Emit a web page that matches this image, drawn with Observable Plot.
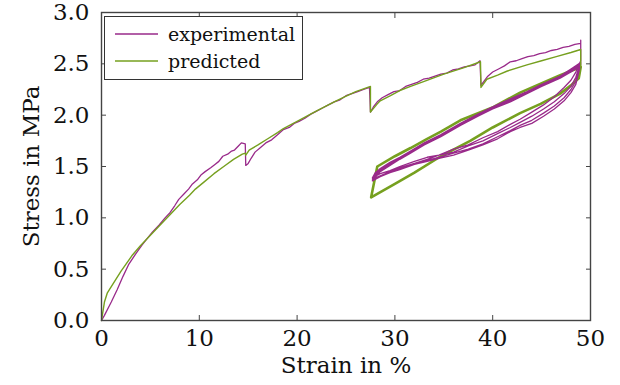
<!DOCTYPE html>
<html>
<head>
<meta charset="utf-8">
<script src="https://cdn.jsdelivr.net/npm/d3@7"></script>
<script src="https://cdn.jsdelivr.net/npm/@observablehq/plot@0.6"></script>
<style>
  html, body { margin: 0; padding: 0; background: #fff; }
  #wrap { position: relative; width: 620px; height: 385px; font-family: "DejaVu Serif", serif; }
  #legend { position: absolute; left: 104px; top: 16px; width: 199px; height: 64px; border: 1px solid #333; background: #fff; box-sizing: border-box; }
  #legend .row { position: absolute; left: 10px; height: 26px; display: flex; align-items: center; font-size: 19px; color: #111; font-family: "DejaVu Serif", serif; }
  #legend svg { margin-right: 10px; }
</style>
</head>
<body>
<div id="wrap"></div>
<script>
// ---- Data ----
const expColor = "#992a8a";
const predColor = "#76a01f";

const xTicks = [0, 10, 20, 30, 40, 50];
const yTicks = [0, 0.5, 1.0, 1.5, 2.0, 2.5, 3.0];
const xLabel = "Strain in %";
const yLabel = "Stress in MPa";

// Experimental: monotonic loading with relaxation drops
const expLoadStrain = [0, 0.3, 1, 1.6, 2.2, 2.8, 3.5, 4.1, 4.6, 5.2, 5.9, 6.5, 7.0, 7.5, 7.9, 8.4, 8.9, 9.3, 9.8, 10.2, 10.6, 11.2, 11.6, 12.0, 12.4, 12.9, 13.3, 13.6, 14.0, 14.3, 14.7,
  14.75, 15.0, 15.3, 15.7, 16.2, 16.8, 17.4, 18.0, 18.6, 19.2, 19.7, 20.2, 20.8, 21.4, 22.0, 22.6, 23.2, 23.8, 24.4, 25.0, 25.6, 26.2, 26.8, 27.4,
  27.5, 27.8, 28.2, 28.7, 29.3, 29.9, 30.5, 31.1, 31.7, 32.3, 32.9, 33.5, 34.1, 34.7, 35.3, 35.9, 36.5, 37.1, 37.7, 38.2, 38.7,
  38.8, 39.1, 39.5, 40.0, 40.6, 41.2, 41.8, 42.4, 43.0, 43.6, 44.2, 44.8, 45.4, 46.0, 46.6, 47.2, 47.8, 48.4, 49.0, 49.0];
const expLoadStress = [0, 0.05, 0.18, 0.30, 0.43, 0.55, 0.65, 0.73, 0.79, 0.86, 0.93, 1.00, 1.05, 1.12, 1.18, 1.23, 1.28, 1.33, 1.37, 1.42, 1.45, 1.49, 1.52, 1.55, 1.60, 1.62, 1.65, 1.66, 1.70, 1.73, 1.72,
  1.51, 1.53, 1.58, 1.64, 1.68, 1.73, 1.76, 1.81, 1.86, 1.88, 1.92, 1.94, 1.97, 2.01, 2.04, 2.07, 2.10, 2.13, 2.15, 2.19, 2.21, 2.23, 2.25, 2.27,
  2.03, 2.08, 2.13, 2.17, 2.20, 2.23, 2.24, 2.28, 2.30, 2.32, 2.35, 2.36, 2.38, 2.40, 2.41, 2.44, 2.45, 2.47, 2.48, 2.49, 2.53,
  2.29, 2.33, 2.38, 2.42, 2.45, 2.48, 2.52, 2.53, 2.55, 2.57, 2.58, 2.60, 2.61, 2.63, 2.64, 2.66, 2.67, 2.69, 2.70, 2.73];

// Experimental cycles (unloading / reloading), several repetitions
const expUnloadStrain = [49.0, 48.5, 48.0, 47.3, 46.3, 45.2, 44.0, 42.8, 41.8, 40.5, 39.0, 37.5, 36.0, 34.5, 33.3, 32.0, 30.5, 29.5, 28.5, 27.7];
const expUnload1 = [2.53, 2.42, 2.34, 2.27, 2.18, 2.10, 2.03, 1.96, 1.91, 1.84, 1.78, 1.71, 1.67, 1.61, 1.59, 1.55, 1.50, 1.46, 1.43, 1.39];
const expUnload2 = [2.52, 2.37, 2.28, 2.21, 2.13, 2.06, 1.99, 1.93, 1.88, 1.82, 1.75, 1.70, 1.64, 1.61, 1.57, 1.53, 1.49, 1.45, 1.41, 1.38];
const expUnload3 = [2.51, 2.33, 2.25, 2.17, 2.09, 2.02, 1.95, 1.90, 1.85, 1.79, 1.72, 1.67, 1.63, 1.59, 1.56, 1.52, 1.48, 1.45, 1.41, 1.37];
const expUnload4 = [2.50, 2.30, 2.22, 2.14, 2.06, 1.99, 1.92, 1.88, 1.84, 1.77, 1.71, 1.66, 1.61, 1.58, 1.55, 1.52, 1.47, 1.44, 1.40, 1.36];
const expReloadStrain = [27.7, 28.0, 28.5, 29.5, 30.5, 31.6, 33.0, 34.7, 36.7, 38.5, 40.0, 41.8, 43.5, 45.0, 46.9, 48.0, 48.8, 49.0];
const expReload1 = [1.39, 1.44, 1.48, 1.54, 1.59, 1.65, 1.73, 1.81, 1.92, 2.01, 2.08, 2.16, 2.23, 2.30, 2.38, 2.45, 2.50, 2.52];
const expReload2 = [1.38, 1.42, 1.47, 1.53, 1.58, 1.64, 1.72, 1.80, 1.91, 2.00, 2.07, 2.15, 2.22, 2.29, 2.37, 2.44, 2.49, 2.51];
const expReload3 = [1.37, 1.41, 1.46, 1.52, 1.58, 1.64, 1.72, 1.80, 1.90, 1.99, 2.06, 2.14, 2.21, 2.28, 2.36, 2.43, 2.48, 2.50];
const expReload4 = [1.36, 1.40, 1.45, 1.51, 1.57, 1.63, 1.71, 1.79, 1.90, 1.99, 2.06, 2.13, 2.21, 2.28, 2.36, 2.42, 2.47, 2.49];

// Predicted: monotonic loading with relaxation drops
const predLoadStrain = [0, 0.3, 0.6, 1, 2, 3.1, 4, 5, 5.9, 7, 8, 9, 9.6, 10.5, 11.5, 12.5, 13.5, 14.4, 14.7,
  14.75, 15.1, 16, 17, 18, 18.6, 20, 21, 22.05, 23, 24, 24.8, 26, 27.5,
  27.5, 28.2, 28.5, 29.55, 30.5, 31.6, 33, 35, 37, 38.75,
  38.8, 39.4, 40.5, 41.5, 43.5, 45, 46.5, 48, 49, 49];
const predLoadStress = [0, 0.18, 0.27, 0.33, 0.48, 0.63, 0.73, 0.83, 0.92, 1.03, 1.13, 1.22, 1.28, 1.35, 1.43, 1.50, 1.57, 1.62, 1.63,
  1.61, 1.66, 1.71, 1.77, 1.83, 1.87, 1.94, 1.99, 2.045, 2.09, 2.14, 2.175, 2.23, 2.28,
  2.03, 2.11, 2.14, 2.19, 2.24, 2.28, 2.33, 2.40, 2.46, 2.52,
  2.27, 2.35, 2.39, 2.43, 2.49, 2.53, 2.57, 2.61, 2.64, 2.47];

// Predicted cycle (repeated, so drawn heavier)
const predUnloadStrain = [49, 48.8, 48.0, 46.9, 44.9, 42.8, 40.0, 37.7, 34.7, 32.0, 30.0, 27.57];
const predUnloadStress = [2.47, 2.36, 2.29, 2.21, 2.11, 2.02, 1.88, 1.75, 1.60, 1.44, 1.33, 1.20];
const predReloadStrain = [27.57, 28.2, 30.0, 31.6, 33.3, 34.7, 36.7, 40.1, 42.8, 46.9, 48.5, 49];
const predReloadStress = [1.20, 1.50, 1.60, 1.68, 1.77, 1.84, 1.95, 2.08, 2.22, 2.39, 2.45, 2.47];

// ---- Build tables ----
const zip = (xs, ys) => xs.map((x, i) => ({strain: x, stress: ys[i]}));
const expData = [
  ...zip(expLoadStrain, expLoadStress),
  ...zip(expUnloadStrain, expUnload1), ...zip(expReloadStrain, expReload1),
  ...zip(expUnloadStrain, expUnload2), ...zip(expReloadStrain, expReload2),
  ...zip(expUnloadStrain, expUnload3), ...zip(expReloadStrain, expReload3),
  ...zip(expUnloadStrain, expUnload4), ...zip(expReloadStrain, expReload4)
];
const predLoad = zip(predLoadStrain, predLoadStress);
const predCycle = [...zip(predUnloadStrain, predUnloadStress), ...zip(predReloadStrain, predReloadStress)];

const fontFam = "'DejaVu Serif', serif";

const chart = Plot.plot({
  width: 620,
  height: 385,
  marginLeft: 101,
  marginRight: 30,
  marginTop: 12,
  marginBottom: 65,
  style: {fontFamily: fontFam, fontSize: "23px", color: "#111", background: "#fff"},
  x: {domain: [0, 50], ticks: xTicks, label: null},
  y: {domain: [0, 3], ticks: yTicks, label: null},
  marks: [
    Plot.line(predCycle, {x: "strain", y: "stress", stroke: predColor, strokeWidth: 2.6, curve: "linear"}),
    Plot.line(expData, {x: "strain", y: "stress", stroke: expColor, strokeWidth: 1.3, curve: "linear"}),
    Plot.line(predLoad, {x: "strain", y: "stress", stroke: predColor, strokeWidth: 1.4, curve: "linear"}),
    Plot.frame({stroke: "#444", strokeWidth: 1.4}),
    Plot.axisX({anchor: "bottom", ticks: xTicks, tickSize: -5, tickPadding: 14, tickFormat: d3.format("d"), label: null, stroke: "#444", fontFamily: fontFam, fontSize: 23}),
    Plot.axisX({anchor: "top", ticks: xTicks, tickSize: -5, tickFormat: () => "", label: null, stroke: "#444"}),
    Plot.axisY({anchor: "left", ticks: yTicks, tickSize: -5, tickPadding: 17, tickFormat: d3.format(".1f"), label: null, stroke: "#444", fontFamily: fontFam, fontSize: 23}),
    Plot.axisY({anchor: "right", ticks: yTicks, tickSize: -5, tickFormat: () => "", label: null, stroke: "#444"}),
    Plot.text([xLabel], {frameAnchor: "bottom", dy: 52, fontSize: 23, fill: "#111", fontFamily: fontFam}),
    Plot.text([yLabel], {frameAnchor: "left", dx: -70, rotate: -90, textAnchor: "middle", fontSize: 23, fill: "#111", fontFamily: fontFam})
  ]
});

const wrap = document.getElementById("wrap");
wrap.appendChild(chart);

// Legend (inside the plot area, top-left)
const legend = document.createElement("div");
legend.id = "legend";
const items = [["experimental", expColor, 4], ["predicted", predColor, 31]];
for (const [name, color, top] of items) {
  const row = document.createElement("div");
  row.className = "row";
  row.style.top = top + "px";
  row.innerHTML = `<svg width="43" height="4"><line x1="0" y1="2" x2="43" y2="2" stroke="${color}" stroke-width="1.4"/></svg><span>${name}</span>`;
  legend.appendChild(row);
}
wrap.appendChild(legend);
</script>
</body>
</html>
